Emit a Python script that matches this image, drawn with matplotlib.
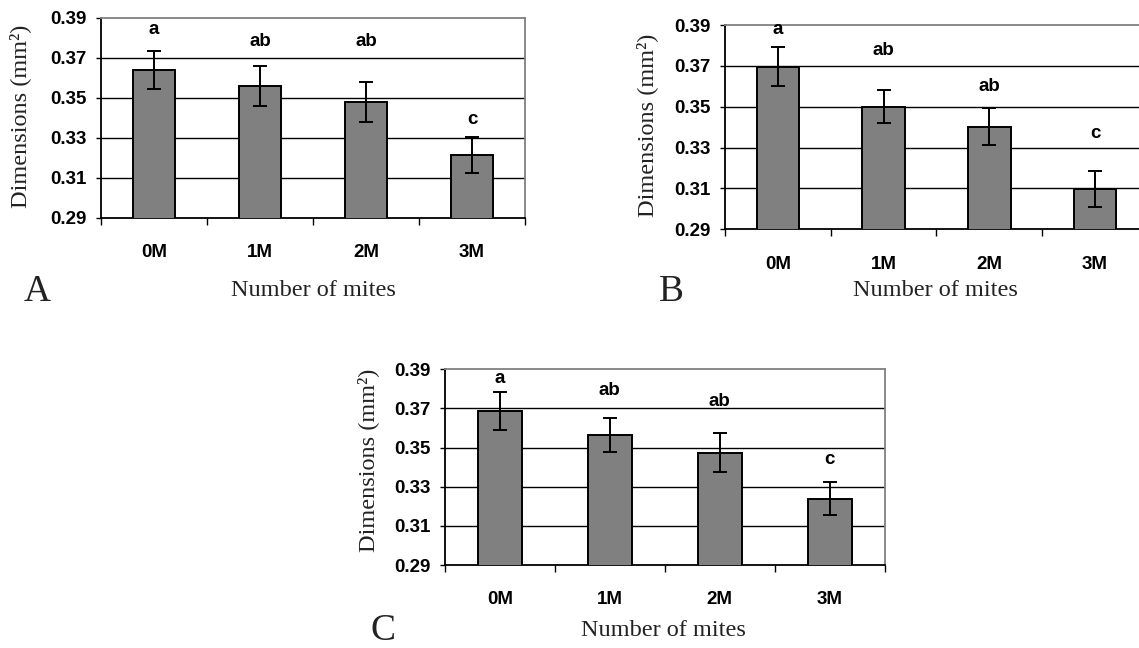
import matplotlib
matplotlib.use("Agg")
import matplotlib.pyplot as plt

W, H = 1139, 648

categories = ["0M", "1M", "2M", "3M"]
yticks = [0.29, 0.31, 0.33, 0.35, 0.37, 0.39]

# Panel A
a_vals = [0.364, 0.356, 0.348, 0.3215]
a_errs = [0.0097, 0.0099, 0.0101, 0.0092]
a_letters = ["a", "ab", "ab", "c"]
a_letter_y = [0.3845, 0.3785, 0.3785, 0.339]

# Panel B
b_vals = [0.3695, 0.350, 0.3402, 0.3097]
b_errs = [0.0096, 0.0082, 0.0091, 0.0087]
b_letters = ["a", "ab", "ab", "c"]
b_letter_y = [0.388, 0.3773, 0.360, 0.337]

# Panel C
c_vals = [0.3688, 0.3563, 0.3474, 0.3239]
c_errs = [0.0098, 0.0087, 0.0098, 0.0085]
c_letters = ["a", "ab", "ab", "c"]
c_letter_y = [0.3854, 0.3794, 0.3734, 0.344]

SANS = "Liberation Sans"
SERIF = "Liberation Serif"
TFS = 13.5

fig = plt.figure(figsize=(W / 100, H / 100), dpi=100)


def rect(left, top, right, bottom):
    return [left / W, 1 - bottom / H, (right - left) / W, (bottom - top) / H]


def panel(r, vals, errs, letters, letter_y, ylab_xy, xlab_xy, tag, tag_xy):
    ax = fig.add_axes(r)
    x = list(range(len(categories)))
    ax.set_xlim(-0.5, 3.5)
    ax.set_ylim(0.29, 0.39)
    for g in yticks[1:-1]:
        ax.axhline(g, color="black", lw=1.0, zorder=1)
    ax.bar(x, vals, width=0.4, color="#808080", edgecolor="black",
           linewidth=1.4, zorder=3)
    ax.errorbar(x, vals, yerr=errs, fmt="none", ecolor="black",
                elinewidth=1.4, capsize=5, capthick=1.4, zorder=4)
    for xi, lt, ly in zip(x, letters, letter_y):
        ax.text(xi, ly, lt, ha="center", va="center", fontsize=TFS,
                fontweight="bold", family=SANS, zorder=5)
    ax.set_yticks(yticks)
    ax.set_yticklabels([f"{t:.2f}" for t in yticks], fontsize=TFS,
                       fontweight="bold", family=SANS)
    ax.set_xticks(x)
    ax.set_xticklabels(categories, fontsize=TFS, fontweight="bold",
                       family=SANS)
    ax.set_xticks([-0.5, 0.5, 1.5, 2.5, 3.5], minor=True)
    ax.tick_params(axis="y", direction="out", length=3.6, width=1.0, pad=7)
    ax.tick_params(axis="x", which="major", length=0, pad=19)
    ax.tick_params(axis="x", which="minor", direction="out", length=5,
                   width=1.0)
    ax.spines["left"].set_color("black")
    ax.spines["bottom"].set_color("black")
    ax.spines["top"].set_color("#808080")
    ax.spines["right"].set_color("#808080")
    for s in ax.spines.values():
        s.set_linewidth(1.3)
    fig.text(ylab_xy[0] / W, 1 - ylab_xy[1] / H, "Dimensions (mm²)",
             rotation=90, ha="center", va="center", fontsize=17.5,
             family=SERIF, color="#222222")
    fig.text(xlab_xy[0] / W, 1 - xlab_xy[1] / H, "Number of mites",
             ha="center", va="center", fontsize=17.5, family=SERIF,
             color="#222222")
    fig.text(tag_xy[0] / W, 1 - tag_xy[1] / H, tag, ha="center",
             va="center", fontsize=27, family=SERIF, color="#222222")
    return ax


panel(rect(101, 18, 525, 218), a_vals, a_errs, a_letters, a_letter_y,
      (20, 116), (313, 290), "A", (37, 292))
panel(rect(725, 25, 1148, 229.3), b_vals, b_errs, b_letters, b_letter_y,
      (647, 125), (935, 290), "B", (671, 292))
panel(rect(445, 369.3, 884.5, 565), c_vals, c_errs, c_letters, c_letter_y,
      (368, 460), (663, 630), "C", (383, 631))

fig.savefig("out.png", dpi=100)
